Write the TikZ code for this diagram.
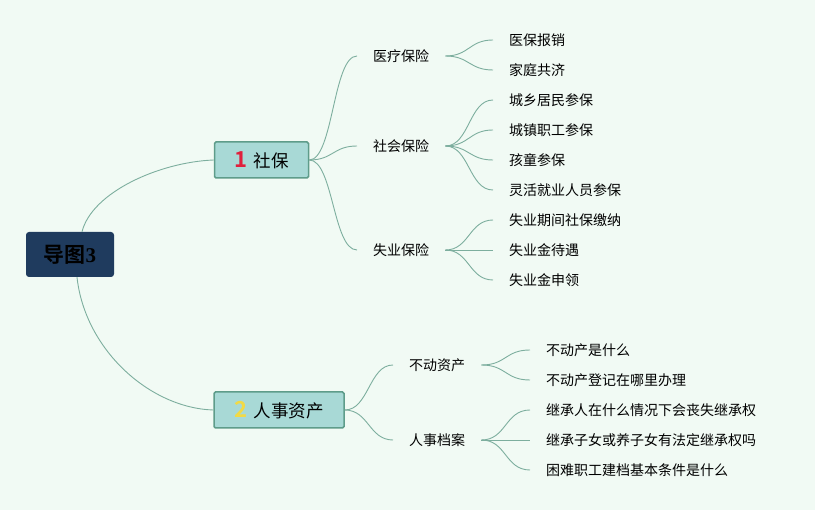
\documentclass[tikz,border=0pt]{standalone}
\usepackage{fontspec}
\setmainfont{Noto Sans CJK SC}[BoldFont={Noto Sans CJK SC Bold}]
\newfontfamily\numfont{Liberation Serif}
\definecolor{bg}{HTML}{F1FAF4}
\definecolor{rootfill}{HTML}{1F3B5E}
\definecolor{mainfill}{HTML}{A8D9D6}
\definecolor{mainborder}{HTML}{5E9C8A}
\definecolor{edgecol}{HTML}{7DAE9E}
\definecolor{numred}{HTML}{E0203C}
\definecolor{numyellow}{HTML}{F2DA45}
\tikzset{
  rootbox/.style={fill=rootfill, rounded corners=3pt, minimum width=88pt, minimum height=45pt,
    inner sep=0pt, text=black, font=\fontsize{21}{24}\selectfont\bfseries},
  mainbox/.style={fill=mainfill, draw=mainborder, line width=1.5pt, rounded corners=1.5pt,
    minimum height=36pt, inner sep=0pt, font=\fontsize{17.5}{20}\selectfont},
  subnode/.style={anchor=west, inner xsep=16pt, inner ysep=2pt, font=\fontsize{14}{16}\selectfont},
  edge/.style={draw=edgecol, line width=0.9pt},
  hv/.style={to path={.. controls ([xshift=#1]\tikztostart) and ([xshift=-#1]\tikztotarget) .. (\tikztotarget)}},
  hv/.default=24pt
}
\begin{document}
\begin{tikzpicture}[x=1pt,y=-1pt]
\fill[bg] (0,0) rectangle (815,510);
\useasboundingbox (0,0) rectangle (815,510);

\node[rootbox] (root) at (70,254.5) {导图\numfont 3};
\node[mainbox, minimum width=94pt] (s1) at (261.5,160) {{\fontsize{22}{22}\selectfont\bfseries\textcolor{numred}{1}}\hspace{7pt}社保};
\node[mainbox, minimum width=130pt] (s2) at (279,410) {{\fontsize{22}{22}\selectfont\bfseries\textcolor{numyellow}{2}}\hspace{7pt}人事资产};

\draw[edge] ([xshift=12pt]root.north) .. controls (92,192) and (160,162) .. (s1.west);
\draw[edge] ([xshift=7pt]root.south) .. controls (85,350) and (150,408) .. (s2.west);

% level 2 under s1
\node[subnode] (a1) at (357,56) {医疗保险};
\node[subnode] (a2) at (357,146) {社会保险};
\node[subnode] (a3) at (357,250) {失业保险};
\foreach \n in {a1,a2,a3} \draw[edge] (s1.east) to[hv] (\n.west);

% leaves
\node[subnode] (l1) at (493,40) {医保报销};
\node[subnode] (l2) at (493,70) {家庭共济};
\node[subnode] (l3) at (493,100) {城乡居民参保};
\node[subnode] (l4) at (493,130) {城镇职工参保};
\node[subnode] (l5) at (493,160) {孩童参保};
\node[subnode] (l6) at (493,190) {灵活就业人员参保};
\node[subnode] (l7) at (493,220) {失业期间社保缴纳};
\node[subnode] (l8) at (493,250) {失业金待遇};
\node[subnode] (l9) at (493,280) {失业金申领};
\foreach \n in {l1,l2} \draw[edge] (a1.east) to[hv] (\n.west);
\foreach \n in {l3,l4,l5,l6} \draw[edge] (a2.east) to[hv] (\n.west);
\foreach \n in {l7,l8,l9} \draw[edge] (a3.east) to[hv] (\n.west);

% level 2 under s2
\node[subnode] (b1) at (393,365) {不动资产};
\node[subnode] (b2) at (393,440) {人事档案};
\foreach \n in {b1,b2} \draw[edge] (s2.east) to[hv] (\n.west);

\node[subnode] (m1) at (530,350) {不动产是什么};
\node[subnode] (m2) at (530,380) {不动产登记在哪里办理};
\node[subnode] (m3) at (530,410) {继承人在什么情况下会丧失继承权};
\node[subnode] (m4) at (530,440) {继承子女或养子女有法定继承权吗};
\node[subnode] (m5) at (530,470) {困难职工建档基本条件是什么};
\foreach \n in {m1,m2} \draw[edge] (b1.east) to[hv=25pt] (\n.west);
\foreach \n in {m3,m4,m5} \draw[edge] (b2.east) to[hv=25pt] (\n.west);
\end{tikzpicture}
\end{document}
